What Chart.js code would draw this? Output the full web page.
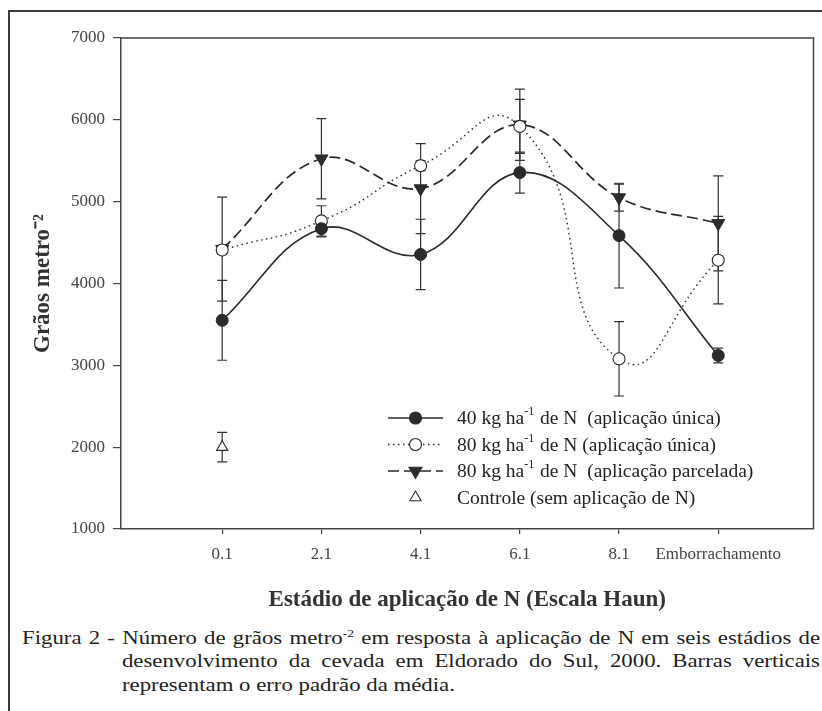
<!DOCTYPE html>
<html>
<head>
<meta charset="utf-8">
<script src="https://cdn.jsdelivr.net/npm/chart.js@4.4.0/dist/chart.umd.min.js"></script>
<style>
  body { margin: 0; background: #fff; width: 822px; height: 711px; overflow: hidden; position: relative; font-family: "Liberation Serif", serif; }
  #frame { position: absolute; left: 8px; top: 10px; width: 840px; height: 740px; border: 2px solid #3a3a3a; }
  #wrap { position: absolute; left: 0; top: 0; width: 822px; height: 620px; }
  /* the printed caption is set in a wide face: stretch Times horizontally */
  #caption { position: absolute; left: 22px; top: 626px; width: 665px; font-size: 19px; line-height: 23.3px; color: #222;
    transform: scaleX(1.2); transform-origin: 0 0; }
  .ln { text-align: justify; text-align-last: justify; white-space: nowrap; }
  .ind { margin-left: 83.3px; }
  .l3 { text-align: left; text-align-last: left; }
  sup { font-size: 0.6em; line-height: 0; vertical-align: 0.6em; }
</style>
</head>
<body>
<div id="frame"></div>
<div id="wrap"><canvas id="chart"></canvas></div>
<div id="caption">
  <div class="ln">Figura 2 - Número de grãos metro<sup>-2</sup> em resposta à aplicação de N em seis estádios de</div>
  <div class="ln ind">desenvolvimento da cevada em Eldorado do Sul, 2000. Barras verticais</div>
  <div class="ln ind l3">representam o erro padrão da média.</div>
</div>
<script>
var stageLabels = ['0.1', '2.1', '4.1', '6.1', '8.1', 'Emborrachamento'];

// Grãos por m²
var n40Unica = [3550, 4670, 4355, 5355, 4585, 3120];
var n40UnicaErr = [488, 100, 430, 250, 640, 90];
var n80Unica = [4410, 4765, 5440, 5920, 3080, 4285];
var n80UnicaErr = [50, 185, 60, 330, 455, 535];
var n80Parcelada = [4420, 5525, 5160, 5940, 5050, 4735];
var n80ParceladaErr = [635, 490, 550, 435, 165, 580];
var controle = [2000];
var controleErr = [180];

var legendLabels = [
  ['40 kg ha', '-1', ' de N  (aplicação única)'],
  ['80 kg ha', '-1', ' de N (aplicação única)'],
  ['80 kg ha', '-1', ' de N  (aplicação parcelada)'],
  ['Controle (sem aplicação de N)']
];

var ink = '#2b2b2b';
var serif = '"Liberation Serif", "Times New Roman", serif';

function pts(arr) { return arr.map(function(v, i) { return { x: i, y: v }; }); }

function marker(ctx, style, x, y, r, fill) {
  ctx.beginPath();
  if (style === 'circle') {
    ctx.arc(x, y, r, 0, Math.PI * 2);
  } else {
    var dir = style === 'down' ? -1 : 1;
    var a = -Math.PI / 2 * dir;
    for (var k = 0; k < 3; k++) {
      var t = a + k * 2 * Math.PI / 3;
      var px = x + Math.cos(t) * r, py = y + Math.sin(t) * r;
      if (k === 0) ctx.moveTo(px, py); else ctx.lineTo(px, py);
    }
    ctx.closePath();
  }
  ctx.fillStyle = fill;
  ctx.fill();
  ctx.lineWidth = 1.1;
  ctx.strokeStyle = ink;
  ctx.stroke();
}

// error bars, drawn from the y scale
var errorBars = {
  id: 'errorBars',
  beforeDatasetsDraw: function(chart) {
    var ctx = chart.ctx, xs = chart.scales.x, ys = chart.scales.y;
    ctx.save();
    ctx.strokeStyle = '#333';
    ctx.lineWidth = 1.2;
    chart.data.datasets.forEach(function(ds) {
      if (!ds.errors) return;
      ds.data.forEach(function(p, i) {
        var e = ds.errors[i];
        var x = xs.getPixelForValue(p.x);
        var lo = ys.getPixelForValue(p.y - e), hi = ys.getPixelForValue(p.y + e);
        ctx.beginPath();
        ctx.moveTo(x, lo); ctx.lineTo(x, hi);
        ctx.moveTo(x - 5, lo); ctx.lineTo(x + 5, lo);
        ctx.moveTo(x - 5, hi); ctx.lineTo(x + 5, hi);
        ctx.stroke();
      });
    });
    // top and right sides of the plot box
    var ca = chart.chartArea;
    ctx.strokeStyle = '#444';
    ctx.lineWidth = 1.5;
    ctx.beginPath();
    ctx.moveTo(ca.left, ca.top); ctx.lineTo(ca.right, ca.top); ctx.lineTo(ca.right, ca.bottom);
    ctx.stroke();
    ctx.restore();
  }
};

var legendBox = {
  id: 'legendBox',
  afterDatasetsDraw: function(chart) {
    var ctx = chart.ctx, ca = chart.chartArea;
    var x0 = ca.left + 267, x1 = ca.left + 322, xm = (x0 + x1) / 2, tx = ca.left + 336;
    var y0 = ca.top + 380, step = 26.5;
    var sym = [
      { dash: [], style: 'circle', r: 6, fill: ink, line: true },
      { dash: [1.5, 3.5], style: 'circle', r: 6, fill: '#fff', line: true },
      { dash: [11, 5], style: 'down', r: 7.5, fill: ink, line: true },
      { dash: [], style: 'up', r: 6.5, fill: '#fff', line: false }
    ];
    ctx.save();
    sym.forEach(function(s, i) {
      var y = y0 + i * step;
      if (s.line) {
        ctx.setLineDash(s.dash);
        ctx.strokeStyle = ink;
        ctx.lineWidth = 1.6;
        ctx.beginPath(); ctx.moveTo(x0, y); ctx.lineTo(x1, y); ctx.stroke();
        ctx.setLineDash([]);
      }
      marker(ctx, s.style, xm, y, s.r, s.fill);
      var x = tx;
      ctx.fillStyle = '#222';
      ctx.textBaseline = 'middle';
      legendLabels[i].forEach(function(part, j) {
        var sup = legendLabels[i].length === 3 && j === 1;
        ctx.font = (sup ? '12px ' : '19.5px ') + serif;
        ctx.fillText(part, x, sup ? y - 6 : y + 1);
        x += ctx.measureText(part).width + (sup ? 1 : 0);
      });
    });
    ctx.restore();
  }
};

new Chart(document.getElementById('chart'), {
  type: 'line',
  data: {
    datasets: [
      { label: '40 kg ha⁻¹ de N (aplicação única)', data: pts(n40Unica), errors: n40UnicaErr,
        borderColor: ink, borderWidth: 1.6, backgroundColor: ink, pointBackgroundColor: ink, pointBorderColor: ink,
        pointStyle: 'circle', pointRadius: 6, pointBorderWidth: 1, tension: 0.4 },
      { label: '80 kg ha⁻¹ de N (aplicação única)', data: pts(n80Unica), errors: n80UnicaErr,
        borderColor: '#333', borderWidth: 1.5, borderDash: [1.5, 3.5], pointBackgroundColor: '#fff', pointBorderColor: ink,
        pointStyle: 'circle', pointRadius: 6, pointBorderWidth: 1.1, tension: 0.56 },
      { label: '80 kg ha⁻¹ de N (aplicação parcelada)', data: pts(n80Parcelada), errors: n80ParceladaErr,
        borderColor: ink, borderWidth: 1.7, borderDash: [11, 5], pointBackgroundColor: ink, pointBorderColor: ink,
        pointStyle: 'triangle', pointRotation: 180, pointRadius: 7.5, pointBorderWidth: 1, tension: 0.4 },
      { label: 'Controle (sem aplicação de N)', data: pts(controle), errors: controleErr, showLine: false,
        pointBackgroundColor: '#fff', pointBorderColor: ink, pointStyle: 'triangle', pointRadius: 6.5, pointBorderWidth: 1.1 }
    ]
  },
  options: {
    responsive: true, maintainAspectRatio: false, animation: false,
    layout: { padding: { left: 20, top: 38, right: 4, bottom: 0 } },
    plugins: { legend: { display: false }, tooltip: { enabled: false } },
    scales: {
      x: {
        type: 'linear', min: -1.02, max: 5.96,
        afterBuildTicks: function(scale) { scale.ticks = stageLabels.map(function(l, i) { return { value: i }; }); },
        afterFit: function(scale) { scale.height = 91; },
        ticks: { autoSkip: false, maxRotation: 0, padding: 10, color: '#444', font: { family: serif, size: 17 },
          callback: function(v) { return stageLabels[v]; } },
        grid: { drawOnChartArea: false, tickLength: 5, color: '#444', lineWidth: 1.2 },
        border: { color: '#444', width: 1.5 },
        title: { display: true, text: 'Estádio de aplicação de N (Escala Haun)', color: '#333',
          font: { family: serif, size: 23, weight: 'bold' }, padding: { top: 0, bottom: 6 } }
      },
      y: {
        min: 1000, max: 7000,
        afterFit: function(scale) { scale.width = 101; },
        ticks: { stepSize: 1000, padding: 8, color: '#444', font: { family: serif, size: 17 },
          callback: function(v) { return String(v); } },
        grid: { drawOnChartArea: false, tickLength: 8, color: '#444', lineWidth: 1.2 },
        border: { color: '#444', width: 1.5 },
        title: { display: true, text: 'Grãos metro⁻²', color: '#333',
          font: { family: serif, size: 23, weight: 'bold' }, padding: { top: 9, bottom: 0 } }
      }
    }
  },
  plugins: [errorBars, legendBox]
});
</script>
</body>
</html>
